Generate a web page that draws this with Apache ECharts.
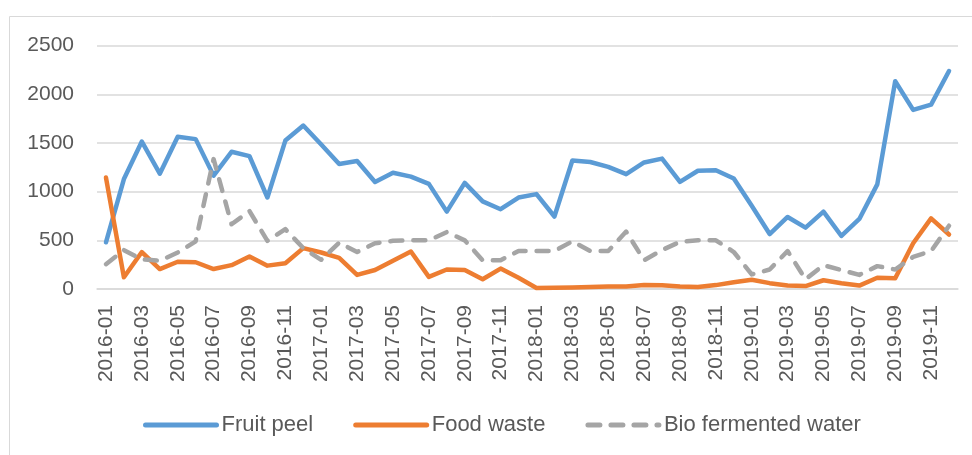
<!DOCTYPE html>
<html><head><meta charset="utf-8">
<script src="https://cdn.jsdelivr.net/npm/echarts@6/dist/echarts.min.js"></script>
<style>html,body{margin:0;padding:0;background:#fff}#c{width:972px;height:455px}</style>
</head><body><div id="c"></div>
<script>
const months = [];
for (let y = 2016; y <= 2019; y++) for (let m = 1; m <= 12; m++) months.push(y + '-' + (m < 10 ? '0' + m : m));
const fruitPeel = [480,1130,1515,1185,1565,1540,1165,1410,1365,940,1525,1680,1485,1285,1315,1100,1195,1155,1080,795,1090,900,820,940,975,745,1320,1305,1255,1180,1300,1340,1100,1215,1220,1135,855,565,740,630,795,545,720,1075,2135,1840,1895,2240];
const foodWaste = [1145,120,380,205,280,275,205,245,335,240,265,420,375,320,145,195,290,385,125,200,195,100,210,115,10,12,15,20,25,25,40,38,25,20,40,70,95,60,35,30,90,60,35,115,110,470,725,560];
const bioWater = [255,400,305,290,375,490,1335,665,800,495,615,420,300,476,380,470,495,500,500,585,500,295,295,390,390,390,490,390,390,590,295,400,485,500,500,380,150,200,390,100,245,195,145,235,200,330,390,650];
const yTicks = [0,500,1000,1500,2000,2500];

const font = 'Liberation Sans';
const chart = echarts.init(document.getElementById('c'));
chart.setOption({
  animation: false,
  textStyle: {fontFamily: font},
  graphic: [{type:'rect', shape:{x:9.5,y:16.5,width:1100,height:600}, style:{fill:'none', stroke:'#D9D9D9', lineWidth:1}}],
  grid: {left: 97, right: 14, top: 45.7, bottom: 166, containLabel: false},
  legend: {
    left: 143, top: 414, padding: 0, itemWidth: 71, itemHeight: 20, itemGap: 40,
    textStyle: {fontFamily: font, fontSize: 22, color: '#595959'},
    itemStyle: {opacity: 0},
    lineStyle: {width: 5, cap: 'round'},
    data: ['Fruit peel','Food waste','Bio fermented water']
  },
  xAxis: {
    type: 'category', data: months, boundaryGap: true,
    axisLine: {lineStyle: {color: '#D9D9D9', width: 1.5}},
    axisTick: {show: false},
    axisLabel: {interval: 1, rotate: 90, margin: 16, fontSize: 21, color: '#595959', fontFamily: font}
  },
  yAxis: {
    type: 'value', min: yTicks[0], max: yTicks[yTicks.length-1], interval: 500,
    axisLine: {show: false}, axisTick: {show: false},
    axisLabel: {margin: 23, fontSize: 21, color: '#595959', fontFamily: font, formatter: v => String(v)},
    splitLine: {lineStyle: {color: '#D9D9D9', width: 1.5}}
  },
  series: [
    {name:'Fruit peel', type:'line', data: fruitPeel, symbol:'none', lineStyle:{color:'#5B9BD5', width:4.5, cap:'round', join:'round'}, itemStyle:{color:'#5B9BD5'}},
    {name:'Food waste', type:'line', data: foodWaste, symbol:'none', lineStyle:{color:'#ED7D31', width:4.5, cap:'round', join:'round'}, itemStyle:{color:'#ED7D31'}},
    {name:'Bio fermented water', type:'line', data: bioWater, symbol:'none', lineStyle:{color:'#A5A5A5', width:4.5, type:[12,11], cap:'round', join:'round'}, itemStyle:{color:'#A5A5A5'}}
  ]
});
</script></body></html>
